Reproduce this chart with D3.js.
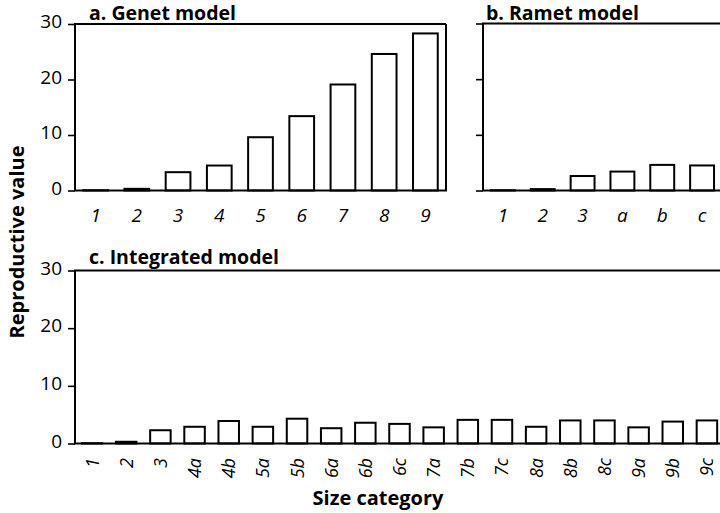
<!DOCTYPE html>
<html>
<head>
<meta charset="utf-8">
<script src="https://cdn.jsdelivr.net/npm/d3@7"></script>
<style>
  html, body { margin: 0; padding: 0; background: #fff; }
  svg { display: block; }
  text { font-family: "Open Sans", "Noto Sans", sans-serif; fill: #000; }
</style>
</head>
<body>
<svg id="chart" width="720" height="513"></svg>
<script>
// ---- data ----
const genetCategories = ["1", "2", "3", "4", "5", "6", "7", "8", "9"];
const genetValues = [0.05, 0.3, 3.3, 4.5, 9.6, 13.4, 19.1, 24.6, 28.3];

const rametCategories = ["1", "2", "3", "a", "b", "c"];
const rametValues = [0.05, 0.25, 2.6, 3.4, 4.6, 4.5];

const integratedCategories = ["1", "2", "3", "4a", "4b", "5a", "5b", "6a", "6b", "6c",
  "7a", "7b", "7c", "8a", "8b", "8c", "9a", "9b", "9c"];
const integratedValues = [0.05, 0.3, 2.3, 2.9, 3.9, 2.9, 4.3, 2.65, 3.6, 3.4,
  2.8, 4.1, 4.1, 2.9, 4.0, 4.0, 2.8, 3.8, 4.0];

const yTickValues = [0, 10, 20, 30];
const panelTitles = ["a. Genet model", "b. Ramet model", "c. Integrated model"];
const yAxisTitle = "Reproductive value";
const xAxisTitle = "Size category";

// ---- drawing ----
const svg = d3.select("#chart");

function drawPanel(opt) {
  const g = svg.append("g");
  const x = d3.scaleBand().domain(opt.cats).range([opt.x0, opt.x1])
    .paddingInner(0.4).paddingOuter(0.2);
  const y = d3.scaleLinear().domain([0, 30]).range([opt.yBottom, opt.yTop]);

  // bars
  g.selectAll("rect.bar").data(opt.values).join("rect")
    .attr("class", "bar")
    .attr("x", (d, i) => x(opt.cats[i]))
    .attr("width", x.bandwidth())
    .attr("y", d => y(d))
    .attr("height", d => y(0) - y(d))
    .attr("fill", "#fff")
    .attr("stroke", "#000")
    .attr("stroke-width", 2);

  // y axis ticks
  const axis = d3.axisLeft(y).tickValues(yTickValues).tickSize(7).tickPadding(6);
  if (!opt.showYLabels) axis.tickFormat("");
  const ag = g.append("g").attr("transform", `translate(${opt.x0},0)`).call(axis);
  ag.select(".domain").remove();
  ag.selectAll(".tick line").attr("stroke", "#000").attr("stroke-width", 1.6);
  ag.selectAll(".tick text").attr("font-size", 19).attr("fill", "#000")
    .style("font-family", '"Open Sans", sans-serif').attr("dy", "0.2em");

  // frame lines
  const lw = 2;
  g.append("line").attr("x1", opt.x0).attr("x2", opt.x0)
    .attr("y1", y(30)).attr("y2", y(0)).attr("stroke", "#000").attr("stroke-width", lw);
  g.append("line").attr("x1", opt.x0 - 1).attr("x2", opt.frameRight)
    .attr("y1", y(30)).attr("y2", y(30)).attr("stroke", "#000").attr("stroke-width", lw);
  g.append("line").attr("x1", opt.x0 - 1).attr("x2", opt.frameRight + 1)
    .attr("y1", y(0)).attr("y2", y(0)).attr("stroke", "#000").attr("stroke-width", lw);
  if (opt.rightBorder) {
    g.append("line").attr("x1", opt.frameRight).attr("x2", opt.frameRight)
      .attr("y1", y(30)).attr("y2", y(0)).attr("stroke", "#000").attr("stroke-width", lw);
  }

  // x labels
  if (opt.rotateLabels) {
    g.selectAll("text.xl").data(opt.cats).join("text")
      .attr("class", "xl")
      .attr("font-size", 18).attr("font-style", "italic")
      .attr("text-anchor", "end")
      .attr("transform", d => `translate(${x(d) + x.bandwidth() / 2},${opt.labelY}) rotate(-90)`)
      .attr("dy", "0.36em")
      .text(d => d);
  } else {
    g.selectAll("text.xl").data(opt.cats).join("text")
      .attr("class", "xl")
      .attr("font-size", 19).attr("font-style", "italic")
      .attr("text-anchor", "middle")
      .attr("x", d => x(d) + x.bandwidth() / 2)
      .attr("y", opt.labelY)
      .text(d => d);
  }

  // title
  g.append("text").attr("x", opt.titleX).attr("y", opt.titleY)
    .attr("font-size", 19.5).attr("font-weight", 700)
    .text(opt.title);
}

drawPanel({
  cats: genetCategories, values: genetValues, x0: 75, x1: 446, frameRight: 446,
  yTop: 24, yBottom: 190.5, showYLabels: true, rightBorder: true,
  labelY: 222, rotateLabels: false, title: panelTitles[0], titleX: 89, titleY: 20
});
drawPanel({
  cats: rametCategories, values: rametValues, x0: 483, x1: 722, frameRight: 722,
  yTop: 23.5, yBottom: 190.5, showYLabels: false, rightBorder: false,
  labelY: 222, rotateLabels: false, title: panelTitles[1], titleX: 486, titleY: 19.5
});
drawPanel({
  cats: integratedCategories, values: integratedValues, x0: 75, x1: 724, frameRight: 722,
  yTop: 270.5, yBottom: 443.5, showYLabels: true, rightBorder: false,
  labelY: 458, rotateLabels: true, title: panelTitles[2], titleX: 89, titleY: 264
});

// axis titles
svg.append("text")
  .attr("transform", "translate(24,242) rotate(-90)")
  .attr("text-anchor", "middle")
  .attr("font-size", 20).attr("font-weight", 700)
  .text(yAxisTitle);
svg.append("text")
  .attr("x", 378).attr("y", 505)
  .attr("text-anchor", "middle")
  .attr("font-size", 20).attr("font-weight", 700)
  .text(xAxisTitle);
</script>
</body>
</html>
